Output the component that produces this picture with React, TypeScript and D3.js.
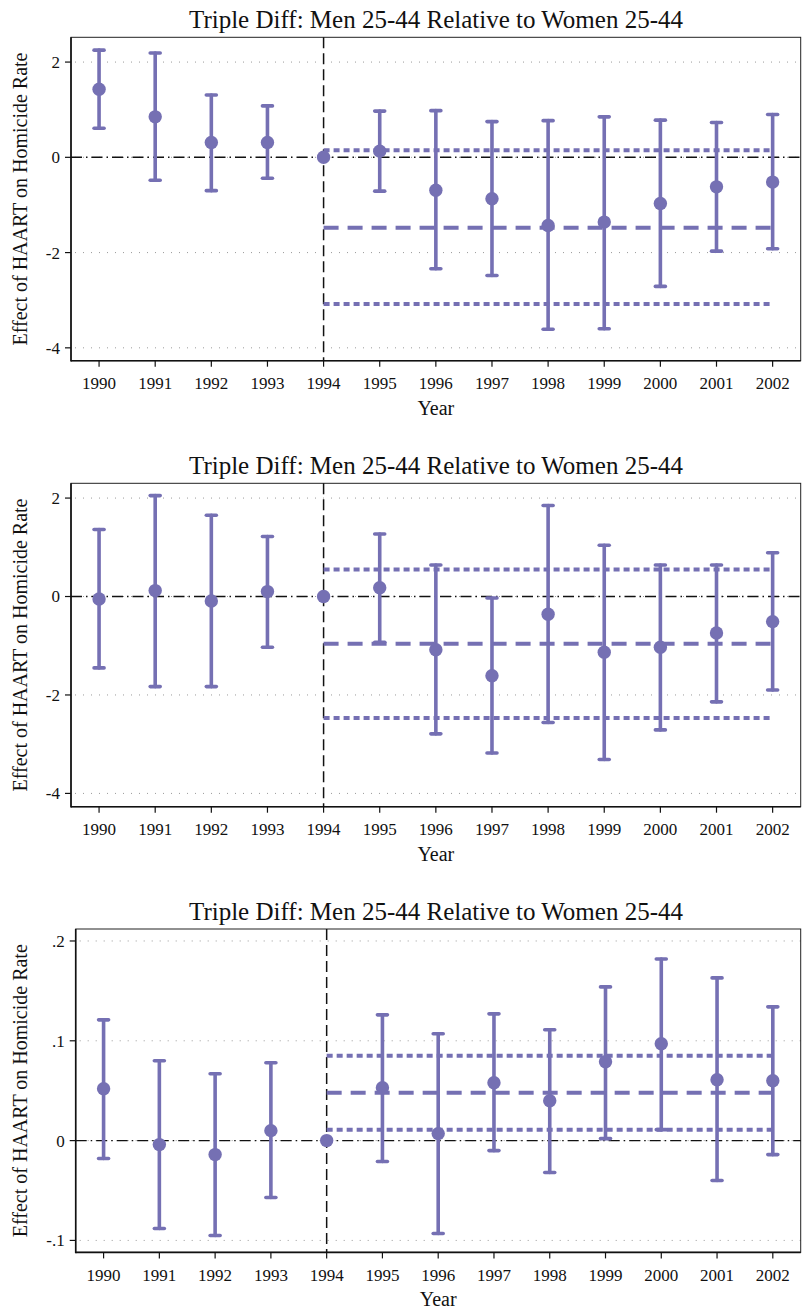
import React from "react";
import * as d3 from "d3";

const years = [1990, 1991, 1992, 1993, 1994, 1995, 1996, 1997, 1998, 1999, 2000, 2001, 2002];
const xTicks = years;

// Panel 1
const est1 = [1.43, 0.85, 0.31, 0.31, 0, 0.13, -0.69, -0.87, -1.43, -1.36, -0.97, -0.62, -0.52];
const lo1 = [0.61, -0.48, -0.7, -0.44, null, -0.71, -2.34, -2.48, -3.61, -3.6, -2.71, -1.97, -1.92];
const hi1 = [2.25, 2.19, 1.31, 1.08, null, 0.97, 0.98, 0.75, 0.77, 0.85, 0.78, 0.73, 0.9];
const post1 = { mean: -1.48, lo: -3.08, hi: 0.15 };
const yTicks1 = [-4, -2, 0, 2];
const yTickLabels1 = ["-4", "-2", "0", "2"];

// Panel 2
const est2 = [-0.05, 0.12, -0.09, 0.1, 0, 0.18, -1.08, -1.61, -0.36, -1.13, -1.03, -0.74, -0.51];
const lo2 = [-1.45, -1.83, -1.83, -1.03, null, -0.93, -2.79, -3.18, -2.56, -3.31, -2.71, -2.14, -1.9];
const hi2 = [1.36, 2.05, 1.65, 1.22, null, 1.27, 0.64, -0.03, 1.85, 1.04, 0.64, 0.64, 0.89];
const post2 = { mean: -0.96, lo: -2.47, hi: 0.55 };
const yTicks2 = [-4, -2, 0, 2];
const yTickLabels2 = ["-4", "-2", "0", "2"];

// Panel 3
const est3 = [0.052, -0.004, -0.014, 0.01, 0, 0.053, 0.007, 0.058, 0.04, 0.079, 0.097, 0.061, 0.06];
const lo3 = [-0.018, -0.088, -0.095, -0.057, null, -0.021, -0.093, -0.01, -0.032, 0.002, 0.011, -0.04, -0.014];
const hi3 = [0.121, 0.08, 0.067, 0.078, null, 0.126, 0.107, 0.127, 0.111, 0.154, 0.182, 0.163, 0.134];
const post3 = { mean: 0.048, lo: 0.011, hi: 0.085 };
const yTicks3 = [-0.1, 0, 0.1, 0.2];
const yTickLabels3 = ["-.1", "0", ".1", ".2"];

const titleText = "Triple Diff: Men 25-44 Relative to Women 25-44";
const yLabelText = "Effect of HAART on Homicide Rate";
const xLabelText = "Year";
const eventYear = 1994;

const PURPLE = "#7570b3";
const FONT = "'Liberation Serif', 'Times New Roman', serif";

type PanelProps = {
  top: number;
  left: number;
  est: number[];
  lo: (number | null)[];
  hi: (number | null)[];
  post: { mean: number; lo: number; hi: number };
  yDomain: [number, number];
  yTicks: number[];
  yTickLabels: string[];
};

function Panel({ top, left, est, lo, hi, post, yDomain, yTicks, yTickLabels }: PanelProps) {
  const right = 800.7;
  const height = 323.4;
  const bottom = top + height;
  const x = d3.scaleLinear().domain([1989.5, 2002.5]).range([left, right]);
  const y = d3.scaleLinear().domain(yDomain).range([bottom, top]);
  const cx = (left + right) / 2;
  const capW = 5;
  return (
    <g>
      <text x={436} y={top - 9} textAnchor="middle" fontFamily={FONT} fontSize={25} fill="#111">
        {titleText}
      </text>
      {yTicks.map((t, i) => (
        <line key={"g" + i} x1={left + 4} x2={right} y1={y(t)} y2={y(t)} stroke="#9a9a9a" strokeWidth={1} strokeDasharray="1,7" />
      ))}
      <rect x={left} y={top} width={right - left} height={height} fill="none" stroke="#222" strokeWidth={1} />
      <line x1={left} x2={left} y1={top} y2={bottom + 0.75} stroke="#111" strokeWidth={1.6} />
      <line x1={left} x2={right} y1={bottom} y2={bottom} stroke="#111" strokeWidth={1.6} />
      {yTicks.map((t, i) => (
        <g key={"yt" + i}>
          <line x1={left - 6} x2={left} y1={y(t)} y2={y(t)} stroke="#111" strokeWidth={1.2} />
          <text x={left - 11} y={y(t)} dy="0.35em" textAnchor="end" fontFamily={FONT} fontSize={17} fill="#111">
            {yTickLabels[i]}
          </text>
        </g>
      ))}
      {xTicks.map((t, i) => (
        <g key={"xt" + i}>
          <line x1={x(t)} x2={x(t)} y1={bottom} y2={bottom + 6} stroke="#111" strokeWidth={1.2} />
          <text x={x(t)} y={bottom + 28.6} textAnchor="middle" fontFamily={FONT} fontSize={17} fill="#111">
            {String(t)}
          </text>
        </g>
      ))}
      <text x={cx} y={bottom + 54} textAnchor="middle" fontFamily={FONT} fontSize={20} fill="#111">
        {xLabelText}
      </text>
      <text
        transform={`translate(27,${(top + bottom) / 2}) rotate(-90)`}
        textAnchor="middle"
        fontFamily={FONT}
        fontSize={20}
        fill="#111"
      >
        {yLabelText}
      </text>
      <line x1={left} x2={right} y1={y(0)} y2={y(0)} stroke="#111" strokeWidth={1.4} strokeDasharray="11,4,1.5,4" />
      <line x1={x(eventYear)} x2={x(eventYear)} y1={top} y2={bottom} stroke="#111" strokeWidth={1.5} strokeDasharray="11,5" />
      <line x1={x(eventYear)} x2={x(2002)} y1={y(post.hi)} y2={y(post.hi)} stroke={PURPLE} strokeWidth={4} strokeDasharray="6,4" />
      <line x1={x(eventYear)} x2={x(2002)} y1={y(post.lo)} y2={y(post.lo)} stroke={PURPLE} strokeWidth={4} strokeDasharray="6,4" />
      <line x1={x(eventYear)} x2={x(2002)} y1={y(post.mean)} y2={y(post.mean)} stroke={PURPLE} strokeWidth={4} strokeDasharray="15,9" />
      {years.map((yr, i) => {
        const l = lo[i];
        const h = hi[i];
        if (l === null || h === null) return null;
        return (
          <g key={"eb" + i} stroke={PURPLE} strokeLinecap="round">
            <line x1={x(yr)} x2={x(yr)} y1={y(l)} y2={y(h)} strokeWidth={3.6} />
            <line x1={x(yr) - capW} x2={x(yr) + capW} y1={y(l)} y2={y(l)} strokeWidth={3.6} />
            <line x1={x(yr) - capW} x2={x(yr) + capW} y1={y(h)} y2={y(h)} strokeWidth={3.6} />
          </g>
        );
      })}
      {years.map((yr, i) => (
        <circle key={"pt" + i} cx={x(yr)} cy={y(est[i])} r={6.7} fill={PURPLE} />
      ))}
    </g>
  );
}

export default function App() {
  return (
    <svg width={803} height={1315} style={{ position: "absolute", left: 0, top: 0, background: "#fff" }}>
      <rect width={803} height={1315} fill="#fff" />
      <Panel top={37.3} left={71} est={est1} lo={lo1} hi={hi1} post={post1} yDomain={[-4.27, 2.52]} yTicks={yTicks1} yTickLabels={yTickLabels1} />
      <Panel top={483.3} left={71} est={est2} lo={lo2} hi={hi2} post={post2} yDomain={[-4.27, 2.3]} yTicks={yTicks2} yTickLabels={yTickLabels2} />
      <Panel top={929} left={75.7} est={est3} lo={lo3} hi={hi3} post={post3} yDomain={[-0.112, 0.212]} yTicks={yTicks3} yTickLabels={yTickLabels3} />
    </svg>
  );
}
